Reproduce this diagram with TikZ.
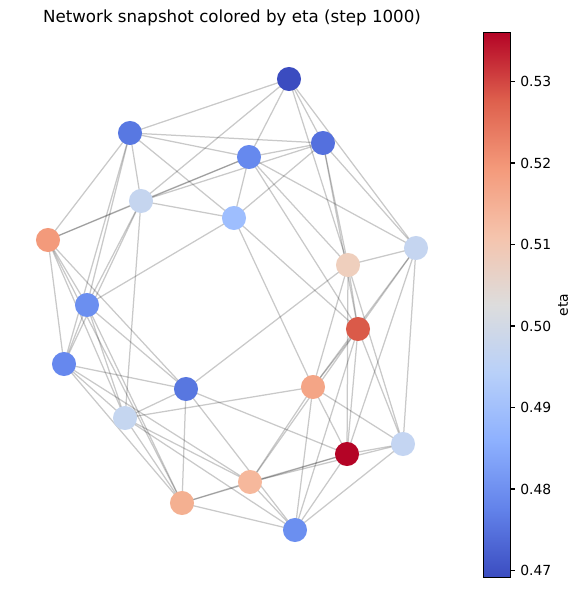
\documentclass[tikz,border=0pt]{standalone}
\usepackage{fontspec}
\setmainfont{DejaVu Sans}
\usetikzlibrary{backgrounds}
\definecolor{cA}{RGB}{59,76,192}
\definecolor{cB}{RGB}{88,120,226}
\definecolor{cC}{RGB}{84,112,222}
\definecolor{cD}{RGB}{102,137,238}
\definecolor{cE}{RGB}{197,213,239}
\definecolor{cF}{RGB}{158,190,254}
\definecolor{cG}{RGB}{243,154,123}
\definecolor{cH}{RGB}{197,213,240}
\definecolor{cI}{RGB}{239,207,189}
\definecolor{cJ}{RGB}{107,143,240}
\definecolor{cK}{RGB}{218,90,73}
\definecolor{cL}{RGB}{102,136,238}
\definecolor{cM}{RGB}{88,119,224}
\definecolor{cN}{RGB}{244,165,134}
\definecolor{cO}{RGB}{197,214,240}
\definecolor{cP}{RGB}{196,213,242}
\definecolor{cQ}{RGB}{180,4,38}
\definecolor{cR}{RGB}{246,184,156}
\definecolor{cS}{RGB}{244,176,145}
\definecolor{cT}{RGB}{107,143,240}
\pgfdeclareverticalshading{coolwarmbar}{100bp}{rgb(0bp)=(0.2298,0.2987,0.7537); rgb(25bp)=(0.2298,0.2987,0.7537); rgb(31.25bp)=(0.3843,0.5098,0.9176); rgb(37.5bp)=(0.5529,0.6902,0.9961); rgb(43.75bp)=(0.7216,0.8157,0.9765); rgb(50bp)=(0.8654,0.8654,0.8654); rgb(56.25bp)=(0.9608,0.7686,0.6784); rgb(62.5bp)=(0.9569,0.6039,0.4824); rgb(68.75bp)=(0.8706,0.3765,0.3020); rgb(75bp)=(0.7059,0.0157,0.1490); rgb(100bp)=(0.7059,0.0157,0.1490)}
\begin{document}
\begin{tikzpicture}[x=0.72bp,y=-0.72bp,
  vtx/.style={circle,inner sep=0pt,minimum size=17.3bp,draw=none},
  edge/.style={draw=black,draw opacity=0.21,line width=0.9bp},
  ticklab/.style={anchor=west,inner sep=0pt,font=\fontsize{10bp}{12bp}\selectfont},
  tickmark/.style={line width=0.8bp}]
\useasboundingbox (0,0) rectangle (580,589);
% nodes
\node[vtx,fill=cA] (A) at (289,79) {};
\node[vtx,fill=cB] (B) at (130,133) {};
\node[vtx,fill=cC] (C) at (323,143) {};
\node[vtx,fill=cD] (D) at (249,157) {};
\node[vtx,fill=cE] (E) at (141,201) {};
\node[vtx,fill=cF] (F) at (234,218) {};
\node[vtx,fill=cG] (G) at (48,240) {};
\node[vtx,fill=cH] (H) at (416,248) {};
\node[vtx,fill=cI] (I) at (348,265) {};
\node[vtx,fill=cJ] (J) at (87,305) {};
\node[vtx,fill=cK] (K) at (358,329) {};
\node[vtx,fill=cL] (L) at (64,364) {};
\node[vtx,fill=cM] (M) at (186,389) {};
\node[vtx,fill=cN] (N) at (313,387) {};
\node[vtx,fill=cO] (O) at (125,418) {};
\node[vtx,fill=cP] (P) at (403,444) {};
\node[vtx,fill=cQ] (Q) at (347,454) {};
\node[vtx,fill=cR] (R) at (250,482) {};
\node[vtx,fill=cS] (S) at (182,503) {};
\node[vtx,fill=cT] (T) at (295,530) {};
% edges
\begin{scope}[on background layer]
\foreach \a/\b in {A/B,A/C,A/D,A/E,A/H,A/I,
  B/C,B/D,B/E,B/F,B/G,B/J,B/L,
  C/D,C/E,C/F,C/H,C/I,C/K,
  D/E,D/G,D/F,D/H,D/I,D/K,
  E/F,E/G,E/J,E/L,E/O,
  F/J,F/K,F/N,
  G/J,G/L,G/M,G/O,G/S,
  H/I,H/K,H/N,H/P,H/Q,
  I/K,I/M,I/N,I/Q,I/P,
  J/L,J/M,J/S,J/O,
  K/N,K/Q,K/P,K/T,K/R,
  L/M,L/O,L/S,L/R,
  M/O,M/S,M/Q,M/T,
  N/O,N/P,N/Q,N/R,N/T,
  O/R,O/S,O/T,
  P/Q,P/R,P/T,
  Q/R,Q/S,Q/T,
  R/S,R/T,
  S/T}
  \draw[edge] (\a.center) -- (\b.center);
\end{scope}
% title
\node[font=\fontsize{12bp}{14bp}\selectfont] (title) at (232,18) {Network snapshot colored by eta (step 1000)};
% colorbar
\shade[shading=coolwarmbar] (483.5,32.5) rectangle (510.5,577.5);
\draw[line width=0.8bp] (483.5,32.5) rectangle (510.5,577.5);
\foreach \v/\yy in {0.47/570.5,0.48/489,0.49/407.5,0.50/326,0.51/244.5,0.52/163,0.53/81.5}{
  \draw[tickmark] (510.5,\yy) -- (515.4,\yy);
  \node[ticklab] at (520,\yy) {\v};
}
\node[rotate=90,font=\fontsize{10bp}{12bp}\selectfont] (cbl) at (563,305) {eta};
\end{tikzpicture}
\end{document}
